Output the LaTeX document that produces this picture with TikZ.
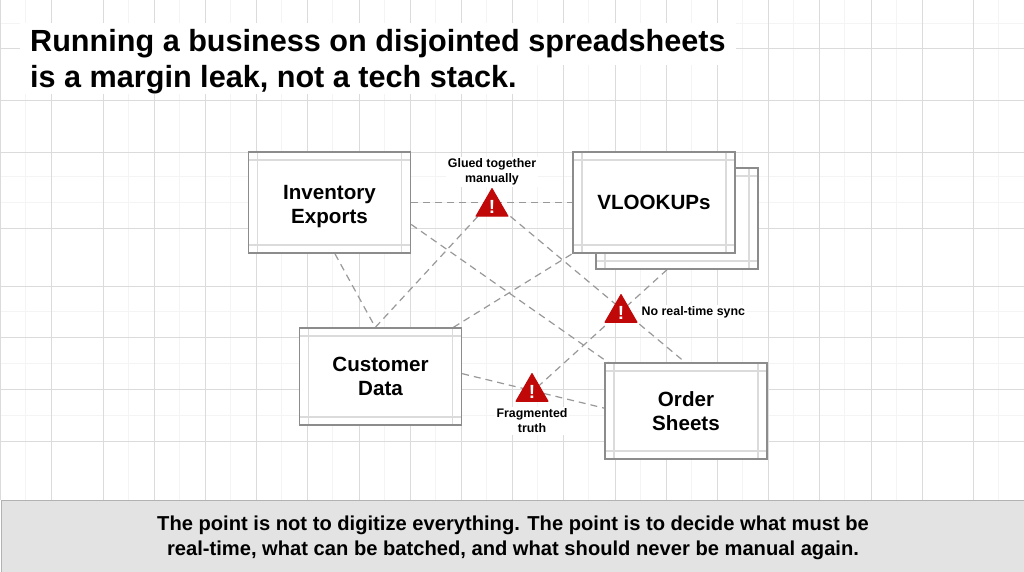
\documentclass[tikz,border=0pt]{standalone}
\usepackage{fontspec}
\setmainfont{Liberation Sans}
\usetikzlibrary{backgrounds,shapes.geometric}
\definecolor{alertred}{HTML}{C00808}
\definecolor{barfill}{HTML}{E3E3E3}
\definecolor{frameline}{HTML}{8C8C8C}
\tikzset{
	majorline/.style={gray!28,line width=1pt},
	minorline/.style={gray!9,line width=1pt},
	insetline/.style={gray!28,line width=1.2pt},
	link/.style={gray!80,dash pattern=on 7pt off 5pt,line width=1.2pt},
	sheet/.style={draw=frameline,fill=white,line width=1.3pt,inner sep=0pt,
		minimum width=162pt,minimum height=#1,align=center,
		font=\fontsize{20.6}{24}\selectfont\bfseries,
		path picture={
			\draw[insetline] ([xshift=9pt]path picture bounding box.north west)--([xshift=9pt]path picture bounding box.south west);
			\draw[insetline] ([xshift=-9pt]path picture bounding box.north east)--([xshift=-9pt]path picture bounding box.south east);
			\draw[insetline] ([yshift=-8pt]path picture bounding box.north west)--([yshift=-8pt]path picture bounding box.north east);
			\draw[insetline] ([yshift=8pt]path picture bounding box.south west)--([yshift=8pt]path picture bounding box.south east);
		}},
	warn/.style={regular polygon,regular polygon sides=3,fill=alertred,draw=alertred,
		line join=round,line width=1pt,minimum size=33pt,inner sep=0pt,text=white,
		font=\fontsize{19}{19}\selectfont\bfseries},
	remark/.style={fill=white,align=center,inner sep=1.5pt,
		font=\fontsize{12.4}{15}\selectfont\bfseries},
	headline/.style={fill=white,anchor=west,inner xsep=10pt,inner ysep=0pt,minimum height=#1,
		font=\fontsize{30.6}{36}\selectfont\bfseries},
}

\begin{document}
\begin{tikzpicture}[x=1pt,y=-1pt]
\useasboundingbox (0,0) rectangle (1024,571);

% Title
\node[headline=42pt] (titleA) at (20,44) {Running a business on disjointed spreadsheets};
\node[headline=29pt] (titleB) at (20,79.5) {is a margin leak, not a tech stack.};

% Sheets
\node[sheet=101pt] (stack) at (677,218.5) {};
\node[sheet=101pt] (inv) at (329.5,202.5) {\rule{0pt}{23pt}Inventory\\Exports};
\node[sheet=101pt] (vlk) at (654,202.5) {VLOOKUPs};
\node[sheet=97pt] (cust) at (380.5,376.5) {Customer\\Data};
\node[sheet=96pt] (ord) at (686,411) {Order\\Sheets};

% Warnings
\node[warn] (warnA) at (492,207) {!};
\node[warn] (warnB) at (621,313) {!};
\node[warn] (warnC) at (532,392) {!};
\coordinate (hub) at (492,201);

\node[remark] (glue) at (492,172) {Glued together\\manually};
\node[remark,anchor=west] (sync) at (640,312) {No real-time sync};
\node[remark] (frag) at (532,421) {Fragmented\\truth};

% Bottom bar
\node[draw=gray!60,fill=barfill,line width=1pt,minimum width=1024pt,minimum height=74pt,inner sep=0pt,
	anchor=north west,align=center,font=\fontsize{20.15}{24.5}\selectfont\bfseries] (bar) at (0.5,500)
	{The point is not to digitize everything. The point is to decide what must be\\[0.5pt]
	real-time, what can be batched, and what should never be manual again.};

\begin{scope}[on background layer]
\fill[white] (0,0) rectangle (1024,571);
% Grid
\foreach \x in {25.6,128,179.2,230.4,281.6,332.8,384,435.2,486.4,537.6,588.8,640,691.2,742.4,793.6,844.8,896,998.4}{
	\draw[minorline] (\x,0)--(\x,500);
}
\foreach \y in {23,176.7,202,311.7,363,415}{
	\draw[minorline] (0,\y)--(1024,\y);
}
\foreach \i in {0,...,20}{
	\draw[majorline] (\i*51.2+0.6,0)--(\i*51.2+0.6,500);
}
\foreach \y in {48,100,152,228,286,337.7,389.3,441.7}{
	\draw[majorline] (0,\y)--(1024,\y);
}
% Links
\draw[link] (inv.east)--(vlk.west);
\draw[link] (inv.-15)--(ord.148);
\draw[link] (inv.-84)--(cust.96);
\draw[link] (cust.96)--(hub);
\draw[link] (hub)--(ord.91);
\draw[link] (cust.34)--(vlk.south west);
\draw[link] (stack.259)--(warnC);
\draw[link] (cust.2)--(ord.178);
\end{scope}
\end{tikzpicture}
\end{document}
